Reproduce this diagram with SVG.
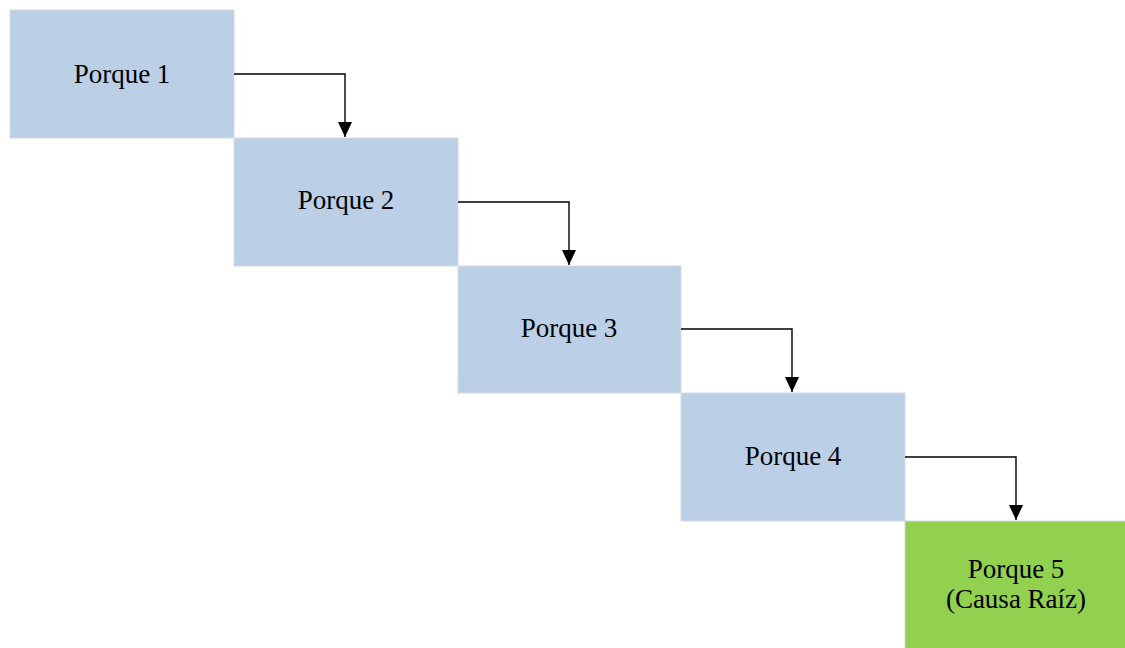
<svg xmlns="http://www.w3.org/2000/svg" width="1125" height="648" viewBox="0 0 1125 648">
<defs>
<style>
.box{fill:#BBCFE7;stroke:#D4DAE2;stroke-width:1}
.root{fill:#92D050;stroke:#D4DAE2;stroke-width:1}
.lbl{font-family:"Liberation Serif","Times New Roman",serif;font-size:27px;fill:#000;text-anchor:middle}
.con{fill:none;stroke:#000;stroke-width:1.4}
</style>
<marker id="arr" viewBox="0 0 15 14" refX="15" refY="7" markerWidth="15" markerHeight="14" markerUnits="userSpaceOnUse" orient="auto">
<path d="M0,0 L15,7 L0,14 z" fill="#000"/>
</marker>
</defs>
<rect width="1125" height="648" fill="#fff"/>
<g id="n1"><rect class="box" x="10" y="10" width="224" height="128"/><text class="lbl" x="122" y="83">Porque 1</text></g>
<g id="n2"><rect class="box" x="234" y="138" width="224" height="128"/><text class="lbl" x="346" y="209">Porque 2</text></g>
<g id="n3"><rect class="box" x="458" y="266" width="223" height="127"/><text class="lbl" x="569" y="337">Porque 3</text></g>
<g id="n4"><rect class="box" x="681" y="393" width="224" height="128"/><text class="lbl" x="793" y="465">Porque 4</text></g>
<g id="n5"><rect class="root" x="905" y="521" width="221" height="128"/><text class="lbl" x="1016" y="578">Porque 5</text><text class="lbl" x="1016" y="608">(Causa Raíz)</text></g>
<g id="connectors">
<path class="con" d="M234,74 H345 V137" marker-end="url(#arr)"/>
<path class="con" d="M458,202 H569 V265" marker-end="url(#arr)"/>
<path class="con" d="M681,329 H792 V392" marker-end="url(#arr)"/>
<path class="con" d="M905,457 H1016 V520" marker-end="url(#arr)"/>
</g>
</svg>
